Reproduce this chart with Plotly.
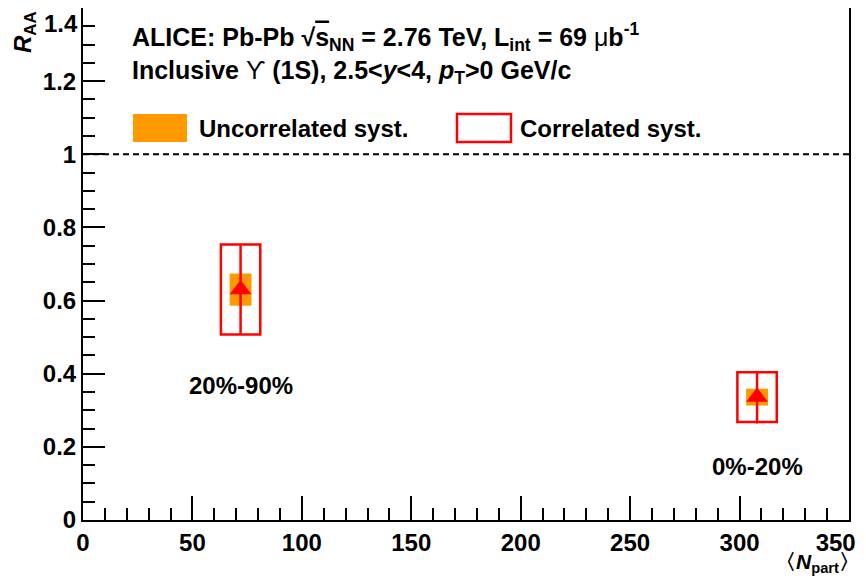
import plotly.graph_objects as go

# Upsilon(1S) R_AA vs <Npart>, ALICE Pb-Pb 2.76 TeV
npart = [72, 308]
raa = [0.63, 0.336]
stat_err = [0.121, 0.072]
syst_uncorr = [0.044, 0.023]
syst_corr = [0.123, 0.068]
centrality = ["20%-90%", "0%-20%"]
label_y = [0.368, 0.147]
x_ticks = [0, 50, 100, 150, 200, 250, 300, 350]
x_ticktext = ["0", "50", "100", "150", "200", "250", "300", "350\u00a0\u00a0\u00a0\u00a0"]
y_ticks = [0, 0.2, 0.4, 0.6, 0.8, 1.0, 1.2, 1.4]
y_ticktext = ["0", "0.2", "0.4", "0.6", "0.8", "1", "1.2", ""]  # 1.4 drawn as a note

OFF = 8  # page body margin
W, H = 850, 568
L, R, T, B = 75, 9, 0, 56
FONT = "Liberation Sans, Arial, sans-serif"
ORANGE = "#ff9900"
RED = "#ff0000"


def px(x, y):
    """screen pixel position -> paper coords"""
    pw = W - L - R
    ph = H - T - B
    return (x - OFF - L) / pw, (H - B - (y - OFF)) / ph


fig = go.Figure()

shapes = []
for xv, yv, sc in zip(npart, raa, syst_corr):
    shapes.append(dict(type="rect", xref="x", yref="y", x0=xv - 9, x1=xv + 9,
                       y0=yv - sc, y1=yv + sc, line=dict(color=RED, width=2.5),
                       fillcolor="rgba(0,0,0,0)", layer="above"))
for xv, yv, su in zip(npart, raa, syst_uncorr):
    shapes.append(dict(type="rect", xref="x", yref="y", x0=xv - 5, x1=xv + 5,
                       y0=yv - su, y1=yv + su, line=dict(width=0),
                       fillcolor=ORANGE, layer="below"))
shapes.append(dict(type="line", xref="x", yref="y", x0=0, x1=350, y0=1, y1=1,
                   line=dict(color="black", width=2, dash="6px,4px")))

# legend boxes
x0, y0 = px(133, 142)
x1, y1 = px(187, 114)
shapes.append(dict(type="rect", xref="paper", yref="paper", x0=x0, x1=x1, y0=y0, y1=y1,
                   line=dict(width=0), fillcolor=ORANGE))
x0, y0 = px(457, 142)
x1, y1 = px(511, 114)
shapes.append(dict(type="rect", xref="paper", yref="paper", x0=x0, x1=x1, y0=y0, y1=y1,
                   line=dict(color=RED, width=2.5), fillcolor="white"))

fig.add_trace(go.Scatter(
    x=npart, y=raa, mode="markers",
    marker=dict(symbol="triangle-up", size=19, color=RED, line=dict(width=0)),
    error_y=dict(type="data", array=stat_err, color=RED, thickness=2.5, width=0),
    showlegend=False, cliponaxis=False))

annotations = []
for xv, yv, lab in zip(npart, label_y, centrality):
    annotations.append(dict(x=xv, y=yv, xref="x", yref="y", text=lab, showarrow=False,
                            font=dict(size=24, color="black", family=FONT, weight="bold")))


def note(x, y, text, xanchor="left", yanchor="middle", angle=0, size=24):
    xp, yp = px(x, y)
    annotations.append(dict(x=xp, y=yp, xref="paper", yref="paper", text=text,
                            showarrow=False, xanchor=xanchor, yanchor=yanchor,
                            textangle=angle,
                            font=dict(size=size, color="black", family=FONT, weight="bold")))


note(130, 37, "ALICE: Pb-Pb √<span style='text-decoration:overline'>s</span><sub>NN</sub>"
              " = 2.76 TeV, L<sub>int</sub> = 69 <span style='font-weight:normal'>μ</span>b<sup>-1</sup>",
     size=25)
note(130, 72, "Inclusive <span style='font-weight:normal'>ϒ</span> (1S), 2.5&lt;<i>y</i>&lt;4, "
              "<i>p</i><sub>T</sub>&gt;0 GeV/c", size=25)
note(197, 128, "Uncorrelated syst.")
note(518, 128, "Correlated syst.")
note(24, 9, "<i>R</i><sub>AA</sub>", xanchor="center", yanchor="top", angle=-90)
note(80, 8, "1.4", xanchor="right", yanchor="top")
note(862, 578, "〈<i>N</i><sub>part</sub>〉", xanchor="right", yanchor="bottom", size=21)

fig.update_layout(
    width=W, height=H,
    margin=dict(l=L, r=R, t=T, b=B),
    plot_bgcolor="white", paper_bgcolor="white",
    font=dict(family=FONT, size=24, color="black", weight="bold"),
    shapes=shapes, annotations=annotations,
    showlegend=False,
)
fig.update_xaxes(range=[0, 350], tickvals=x_ticks, ticktext=x_ticktext, ticks="inside",
                 ticklen=24, tickwidth=1.5,
                 tickcolor="black", showline=True, linecolor="black", linewidth=2,
                 mirror=True, showgrid=False, zeroline=False, automargin=False,
                 ticklabeloverflow="allow",
                 minor=dict(dtick=10, ticks="inside", ticklen=12, tickwidth=1.5,
                            tickcolor="black", showgrid=False))
fig.update_yaxes(range=[0, 1.4], tickvals=y_ticks, ticktext=y_ticktext, ticks="inside",
                 ticklen=22, tickwidth=1.5, tickcolor="black", showline=True, linecolor="black",
                 linewidth=2, mirror=True, showgrid=False, zeroline=False, automargin=False,
                 ticklabeloverflow="allow",
                 minor=dict(dtick=0.05, ticks="inside", ticklen=12, tickwidth=1.5,
                            tickcolor="black", showgrid=False))

fig.write_html("out.html")
